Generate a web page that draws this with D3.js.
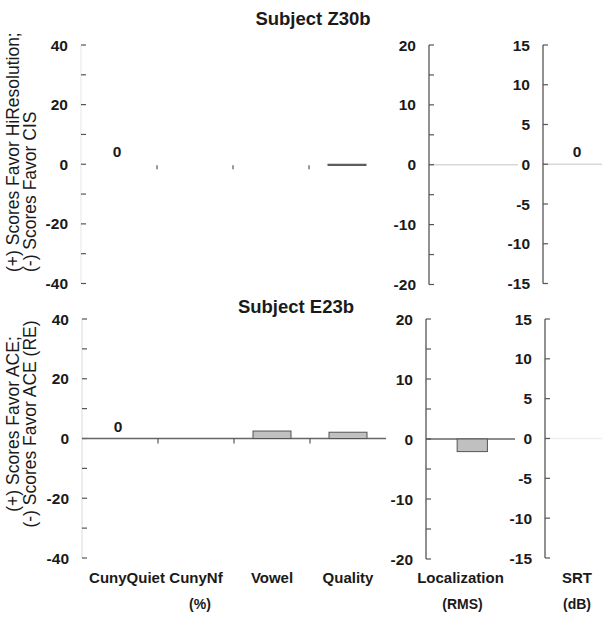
<!DOCTYPE html>
<html>
<head>
<meta charset="utf-8">
<script src="https://cdn.jsdelivr.net/npm/d3@7"></script>
<style>
  html, body { margin: 0; padding: 0; background: #fff; }
  svg text { font-family: "Liberation Sans", Arial, Helvetica, sans-serif; fill: #1a1a1a; }
</style>
</head>
<body>
<svg id="chart" width="602" height="619"></svg>
<script>
// ---------- data ----------
const categories = ["CunyQuiet", "CunyNf", "Vowel", "Quality"];
const subjects = ["Subject Z30b", "Subject E23b"];
const yTitles = [
  ["(+) Scores Favor HiResolution;", "(-) Scores Favor CIS"],
  ["(+) Scores Favor ACE;", "(-) Scores Favor ACE (RE)"]
];
// percent-based measures per subject
const pctZ30b = [0, 0, 0, -0.4];
const pctE23b = [0, 0, 2.5, 2.1];
const pctLabelsZ30b = ["0", "", "", ""];
const pctLabelsE23b = ["0", "", "", ""];
// localization (RMS)
const locZ30b = [0];
const locE23b = [-2.1];
// SRT (dB)
const srtZ30b = [0];
const srtE23b = [0];
const srtLabelsZ30b = ["0"];
const srtLabelsE23b = [""];
// axis ticks
const pctTicks = [-40, -30, -20, -10, 0, 10, 20, 30, 40];
const pctTickLabels = [-40, -20, 0, 20, 40];
const locTicks = [-20, -15, -10, -5, 0, 5, 10, 15, 20];
const locTickLabels = [-20, -10, 0, 10, 20];
const srtTicks = [-15, -10, -5, 0, 5, 10, 15];
const unitLabels = ["(%)", "(RMS)", "(dB)"];

// ---------- layout ----------
const svg = d3.select("#chart");
const rows = [
  { top: 45, bottom: 283.5, title: subjects[0], titleX: 313, titleY: 25,
    pct: pctZ30b, pctLab: pctLabelsZ30b, loc: locZ30b, srt: srtZ30b, srtLab: srtLabelsZ30b,
    leftX: 81, locX: 429, srtX: 543, yt: yTitles[0], ytAnchor: "start", ytPos: 272, faintAxis: true },
  { top: 319, bottom: 558, title: subjects[1], titleX: 296, titleY: 313,
    pct: pctE23b, pctLab: pctLabelsE23b, loc: locE23b, srt: srtE23b, srtLab: srtLabelsE23b,
    leftX: 82, locX: 426, srtX: 545, yt: yTitles[1], ytAnchor: "middle", ytPos: 424, faintAxis: false }
];

function yAxis(g, scale, ticks, labels, axisColor) {
  g.append("line").attr("x1", 0).attr("x2", 0)
    .attr("y1", scale.range()[0]).attr("y2", scale.range()[1])
    .attr("stroke", axisColor).attr("stroke-width", 1.3);
  g.selectAll("line.tk").data(ticks).join("line").attr("class", "tk")
    .attr("x1", 0).attr("x2", 5)
    .attr("y1", d => scale(d)).attr("y2", d => scale(d))
    .attr("stroke", "#555").attr("stroke-width", 1.2);
  g.selectAll("text.tl").data(labels).join("text").attr("class", "tl")
    .attr("x", -13).attr("y", d => scale(d)).attr("dy", "0.36em")
    .attr("text-anchor", "end").attr("font-size", 15.5).attr("font-weight", "bold")
    .text(d => d);
}

rows.forEach((r, ri) => {
  const g = svg.append("g");
  // title
  g.append("text").attr("x", r.titleX).attr("y", r.titleY).attr("text-anchor", "middle")
    .attr("font-size", 18.5).attr("font-weight", "bold").text(r.title);

  // y titles (rotated)
  r.yt.forEach((t, i) => {
    g.append("text")
      .attr("transform", `translate(${19 + i * 16.5},${r.ytPos}) rotate(-90)`)
      .attr("text-anchor", r.ytAnchor).attr("font-size", 17.5).text(t);
  });

  // ---- percent panel ----
  const yP = d3.scaleLinear().domain([-40, 40]).range([r.bottom, r.top]);
  const xP = d3.scaleBand().domain(categories).range([r.leftX, r.leftX + 304]);
  const pg = g.append("g");
  yAxis(pg.append("g").attr("transform", `translate(${r.leftX},0)`), yP, pctTicks, pctTickLabels,
        r.faintAxis ? "#ececec" : "#e2e2e2");
  if (!r.faintAxis) {
    pg.append("line").attr("x1", r.leftX).attr("x2", r.leftX + 304)
      .attr("y1", yP(0)).attr("y2", yP(0)).attr("stroke", "#666").attr("stroke-width", 1.3);
  }
  // category boundary ticks
  pg.selectAll("line.cb").data(categories.slice(1)).join("line").attr("class", "cb")
    .attr("x1", d => xP(d)).attr("x2", d => xP(d))
    .attr("y1", yP(0) + (r.faintAxis ? 1 : 0)).attr("y2", yP(0) + 5)
    .attr("stroke", "#555").attr("stroke-width", 1.2);
  pg.selectAll("rect.bar").data(r.pct.map((v, i) => ({ v, c: categories[i] })).filter(d => d.v !== 0))
    .join("rect").attr("class", "bar")
    .attr("x", d => xP(d.c) + xP.bandwidth() * 0.25)
    .attr("width", xP.bandwidth() * 0.5)
    .attr("y", d => yP(Math.max(0, d.v)))
    .attr("height", d => Math.abs(yP(d.v) - yP(0)))
    .attr("fill", d => d.v < 0 ? "#666" : "#c0c0c0")
    .attr("stroke", "#555").attr("stroke-width", 1);
  pg.selectAll("text.vl").data(r.pctLab.map((l, i) => ({ l, c: categories[i] })).filter(d => d.l))
    .join("text").attr("class", "vl")
    .attr("x", d => xP(d.c) + xP.bandwidth() / 2 - 2).attr("y", yP(0) - 7)
    .attr("text-anchor", "middle").attr("font-size", 15.5).attr("font-weight", "bold").text(d => d.l);

  // ---- localization panel ----
  const yL = d3.scaleLinear().domain([-20, 20]).range([r.bottom + 1, r.top]);
  const lg = g.append("g");
  const locW = 89;
  lg.append("line").attr("x1", r.locX).attr("x2", r.locX + locW)
    .attr("y1", yL(0)).attr("y2", yL(0))
    .attr("stroke", r.faintAxis ? "#d8d8d8" : "#666").attr("stroke-width", 1.3);
  yAxis(lg.append("g").attr("transform", `translate(${r.locX},0)`), yL, locTicks, locTickLabels, "#555");
  const xL = d3.scaleBand().domain(["Localization"]).range([r.locX, r.locX + locW]);
  lg.selectAll("rect.bar").data(r.loc.filter(v => v !== 0)).join("rect").attr("class", "bar")
    .attr("x", xL("Localization") + locW * 0.35).attr("width", locW * 0.34)
    .attr("y", d => yL(Math.max(0, d))).attr("height", d => Math.abs(yL(d) - yL(0)))
    .attr("fill", "#c0c0c0").attr("stroke", "#555").attr("stroke-width", 1);

  // ---- SRT panel ----
  const yS = d3.scaleLinear().domain([-15, 15]).range([r.bottom, r.top]);
  const sg = g.append("g");
  sg.append("line").attr("x1", r.srtX).attr("x2", 602)
    .attr("y1", yS(0)).attr("y2", yS(0))
    .attr("stroke", r.faintAxis ? "#d8d8d8" : "#eeeeee").attr("stroke-width", 1.3);
  yAxis(sg.append("g").attr("transform", `translate(${r.srtX},0)`), yS, srtTicks, srtTicks, "#555");
  sg.selectAll("text.vl").data(r.srtLab.filter(d => d)).join("text").attr("class", "vl")
    .attr("x", r.srtX + 34).attr("y", yS(0) - 7).attr("text-anchor", "middle")
    .attr("font-size", 15.5).attr("font-weight", "bold").text(d => d);

  // bottom labels only on last row
  if (ri === 1) {
    g.selectAll("text.cat").data(categories).join("text").attr("class", "cat")
      .attr("x", d => xP(d) + xP.bandwidth() / 2 + (d === "CunyQuiet" ? 7 : 0)).attr("y", 583)
      .attr("text-anchor", "middle").attr("font-size", 15).attr("font-weight", "bold").text(d => d);
    g.append("text").attr("x", xL("Localization") + locW / 2 - 10).attr("y", 583)
      .attr("text-anchor", "middle").attr("font-size", 15).attr("font-weight", "bold").text("Localization");
    g.append("text").attr("x", r.srtX + 32).attr("y", 583)
      .attr("text-anchor", "middle").attr("font-size", 15).attr("font-weight", "bold").text("SRT");
    const ux = [200, xL("Localization") + locW / 2 - 8, r.srtX + 32];
    unitLabels.forEach((u, i) => {
      g.append("text").attr("x", ux[i]).attr("y", 609).attr("text-anchor", "middle")
        .attr("font-size", 14).attr("font-weight", "bold").text(u);
    });
  }
});
</script>
</body>
</html>
